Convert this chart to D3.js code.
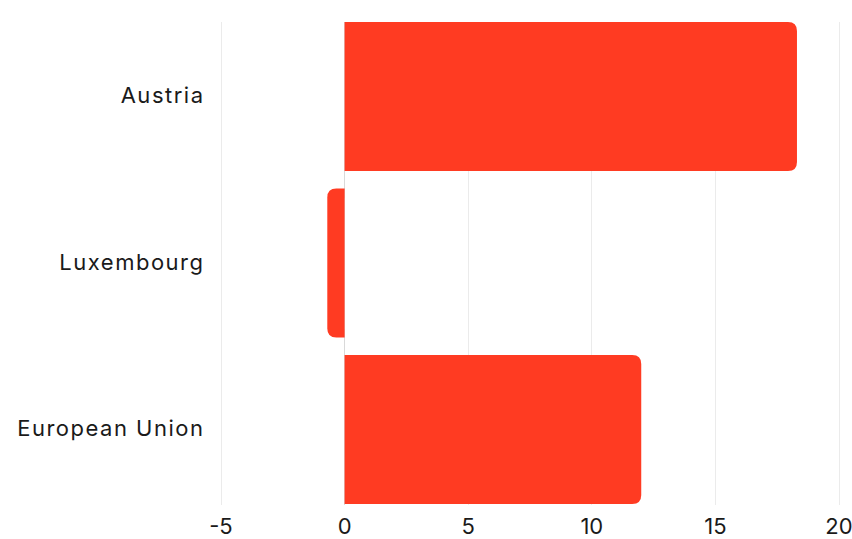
<!DOCTYPE html>
<html><head><meta charset="utf-8">
<script src="https://cdn.jsdelivr.net/npm/d3@7"></script>
<style>body{margin:0;background:#fff}svg{display:block}text{font-family:Inter,"Noto Sans",sans-serif}</style>
</head><body><svg id="c" width="852" height="539"></svg>
<script>
const categories = ["Austria", "Luxembourg", "European Union"];
const values = [18.3, -0.7, 12.0];
const ticks = [-5, 0, 5, 10, 15, 20];

const svg = d3.select("#c");
const x = d3.scaleLinear().domain([-5, 20]).range([221, 839]);
const y = d3.scaleBand().domain(categories).range([22, 504]).paddingInner(0.105).paddingOuter(0);

// gridlines
svg.append("g").selectAll("line").data(ticks).join("line")
  .attr("x1", d => x(d)).attr("x2", d => x(d))
  .attr("y1", 22).attr("y2", 505)
  .attr("stroke", d => d === 0 ? "#d9d9d9" : "#ebebeb").attr("stroke-width", 1)
  .attr("shape-rendering", "crispEdges");

const r = 9;
function barPath(v, top, h) {
  const x0 = x(0), x1 = x(v);
  const s = v >= 0 ? 1 : -1;
  const w = Math.abs(x1 - x0);
  const rr = Math.min(r, w, h / 2);
  return `M${x0},${top} L${x1 - s * rr},${top} Q${x1},${top} ${x1},${top + rr} L${x1},${top + h - rr} Q${x1},${top + h} ${x1 - s * rr},${top + h} L${x0},${top + h} Z`;
}
svg.append("g").selectAll("path").data(categories).join("path")
  .attr("d", (c, i) => barPath(values[i], y(c), y.bandwidth()))
  .attr("fill", "#ff3b22");

// category labels
svg.append("g").selectAll("text").data(categories).join("text")
  .attr("x", 204.5).attr("y", c => y(c) + y.bandwidth() / 2 - 1)
  .attr("dy", "0.35em").attr("text-anchor", "end")
  .attr("font-size", 22).attr("letter-spacing", "1.5px").attr("fill", "#1a1a1a").text(c => c);

// x tick labels
svg.append("g").selectAll("text").data(ticks).join("text")
  .attr("x", d => x(d)).attr("y", 526).attr("dy", "0.35em")
  .attr("text-anchor", "middle").attr("font-size", 22).attr("fill", "#1a1a1a")
  .text(d => d);
</script></body></html>
